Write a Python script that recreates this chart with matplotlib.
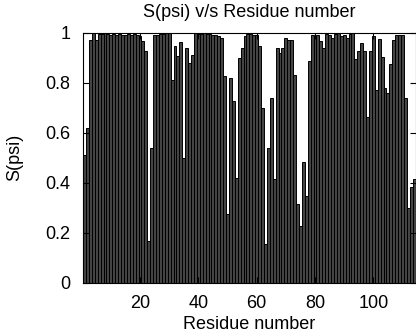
import numpy as np
from matplotlib import pyplot as plt
import matplotlib.ticker as ticker
import matplotlib

matplotlib.rcParams['font.family'] = ['Liberation Sans', 'DejaVu Sans']

residues = list(range(1, 115))
s_psi = [
    0.51, 0.62, 0.97, 1.00, 0.97, 0.995, 0.995, 1.00, 0.995, 0.99,   # 1-10
    0.995, 0.99, 0.995, 0.99, 0.99, 0.995, 0.99, 0.995, 0.99, 0.987, # 11-20
    0.966, 0.926, 0.167, 0.54, 0.99, 0.99, 0.995, 0.995, 1.00, 1.00, # 21-30
    0.81, 0.946, 0.906, 0.962, 0.50, 0.94, 0.877, 0.909, 1.00, 0.995, # 31-40
    0.995, 1.00, 0.995, 0.995, 0.99, 0.99, 0.985, 0.98, 0.825, 0.274, # 41-50
    0.82, 0.725, 0.42, 0.90, 0.94, 0.987, 0.995, 0.995, 0.99, 0.99,  # 51-60
    0.946, 0.70, 0.153, 0.54, 0.738, 0.415, 0.94, 0.92, 0.94, 0.98,  # 61-70
    0.97, 0.97, 0.83, 0.315, 0.227, 0.483, 0.348, 0.886, 0.99, 0.985, # 71-80
    0.99, 0.966, 0.94, 0.995, 0.99, 0.977, 0.995, 1.00, 0.985, 0.99, # 81-90
    0.98, 0.995, 1.00, 0.893, 0.926, 0.96, 0.926, 0.664, 0.926, 0.987, # 91-100
    0.77, 0.976, 0.903, 0.778, 0.76, 0.873, 0.97, 0.99, 0.99, 0.99,  # 101-110
    0.738, 0.30, 0.382, 0.415,                                        # 111-114
]

fig = plt.figure(figsize=(4.16, 3.36), dpi=100)
ax = fig.add_axes([0.1998, 0.1586, 0.7992, 0.7441])

ax.bar(residues, s_psi, width=1.0, color='#444444', edgecolor='black', linewidth=0.7)

ax.set_xlim(0.5, 114.5)
ax.set_ylim(0, 1)
ax.xaxis.set_major_locator(ticker.FixedLocator([20, 40, 60, 80, 100]))
ax.yaxis.set_major_locator(ticker.MultipleLocator(0.2))
ax.yaxis.set_major_formatter(ticker.FormatStrFormatter('%g'))
ax.tick_params(direction='in', length=4.5, width=0.8, labelsize=13,
               top=True, right=True, pad=9)
for s in ax.spines.values():
    s.set_linewidth(0.8)

ax.set_xlabel('Residue number', fontsize=13, labelpad=3)
ax.set_ylabel('S(psi)', fontsize=13, labelpad=16)
ax.set_title('S(psi) v/s Residue number', fontsize=13, pad=11)

plt.savefig('out.png', dpi=100)
